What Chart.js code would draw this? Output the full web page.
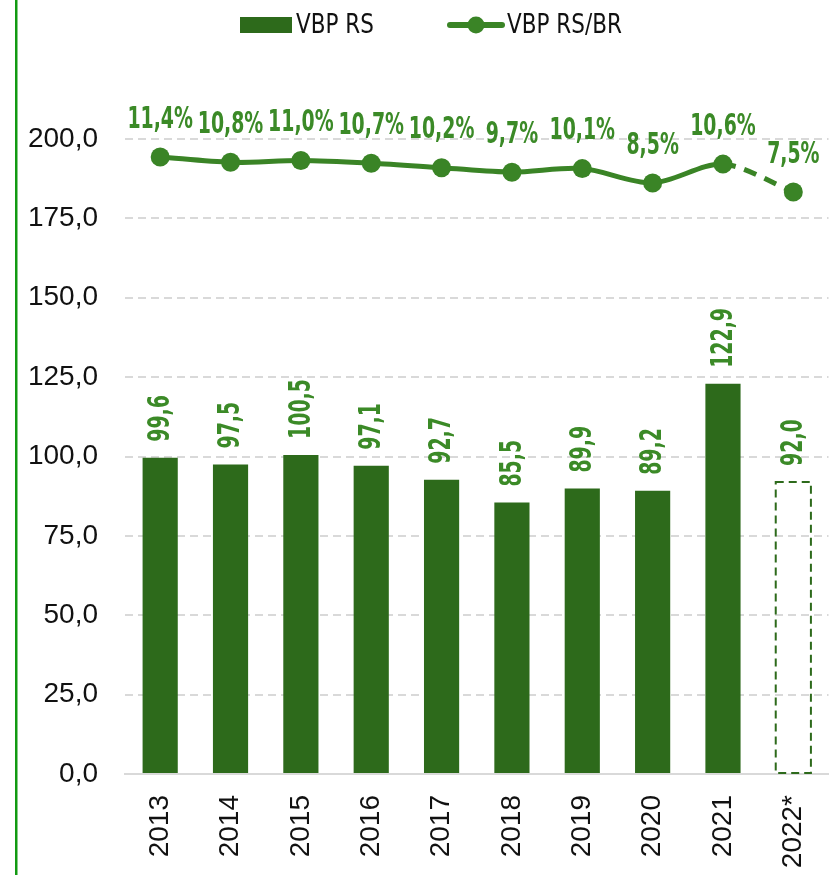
<!DOCTYPE html>
<html>
<head>
<meta charset="utf-8">
<script src="https://cdn.jsdelivr.net/npm/chart.js@4/dist/chart.umd.min.js"></script>
<style>
    html, body { margin: 0; padding: 0; background: #fff; }
    #wrap { width: 838px; height: 875px; }
</style>
</head>
<body>
<div id="wrap"><canvas id="vbp-chart" width="838" height="875"></canvas></div>
<script>
const years = ['2013', '2014', '2015', '2016', '2017', '2018', '2019', '2020', '2021', '2022*'];
const vbpRS = [99.6, 97.5, 100.5, 97.1, 92.7, 85.5, 89.9, 89.2, 122.9, 92.0];
const vbpShare = [11.4, 10.8, 11.0, 10.7, 10.2, 9.7, 10.1, 8.5, 10.6, 7.5];
const projected = [false, false, false, false, false, false, false, false, false, true];
const yTicks = [0, 25, 50, 75, 100, 125, 150, 175, 200];

const BAR_GREEN = '#2d6a1b';
const LINE_GREEN = '#3a8426';
const LABEL_GREEN = '#3b8a27';
const GRID_GREY = '#d9d9d9';
const CONDENSED = "'DejaVu Sans Condensed', 'DejaVu Sans', sans-serif";
const REGULAR = "'Liberation Sans', Arial, sans-serif";
const SQUEEZE = 0.7; // labels in the original are a very narrow bold face

const fmt = v => v.toFixed(1).replace('.', ',');

// left green rule of the page
const pageRule = {
    id: 'pageRule',
    beforeDraw(chart) {
        const ctx = chart.ctx;
        ctx.save();
        ctx.fillStyle = '#129a12';
        ctx.fillRect(15, 0, 2.5, chart.height);
        ctx.restore();
    }
};

// dashed outline for the projected bar
const projectedBar = {
    id: 'projectedBar',
    afterDatasetsDraw(chart) {
        const ctx = chart.ctx;
        const meta = chart.getDatasetMeta(0);
        meta.data.forEach((bar, i) => {
            if (!projected[i]) return;
            const half = bar.width / 2;
            ctx.save();
            ctx.strokeStyle = BAR_GREEN;
            ctx.lineWidth = 2;
            ctx.setLineDash([8, 5]);
            ctx.strokeRect(bar.x - half, bar.y, bar.width, bar.base - bar.y);
            ctx.restore();
        });
    }
};

// value labels (bars rotated, line above points)
const valueLabels = {
    id: 'valueLabels',
    afterDatasetsDraw(chart) {
        const ctx = chart.ctx;
        ctx.save();
        ctx.fillStyle = LABEL_GREEN;
        ctx.font = 'bold 30px ' + CONDENSED;

        chart.getDatasetMeta(0).data.forEach((bar, i) => {
            ctx.save();
            ctx.translate(bar.x, bar.y - 16);
            ctx.rotate(-Math.PI / 2);
            ctx.scale(SQUEEZE, 1);
            ctx.textAlign = 'left';
            ctx.textBaseline = 'middle';
            ctx.fillText(fmt(vbpRS[i]), 0, 1);
            ctx.restore();
        });

        chart.getDatasetMeta(1).data.forEach((pt, i) => {
            ctx.save();
            ctx.translate(pt.x, pt.y - 37);
            ctx.scale(SQUEEZE, 1);
            ctx.textAlign = 'center';
            ctx.textBaseline = 'middle';
            ctx.fillText(fmt(vbpShare[i]) + '%', 0, 0);
            ctx.restore();
        });
        ctx.restore();
    }
};

// legend like the excel one
const topLegend = {
    id: 'topLegend',
    afterDraw(chart) {
        const ctx = chart.ctx;
        const y = 25;
        const x0 = 240;
        ctx.save();
        ctx.font = '26px ' + CONDENSED;
        ctx.textBaseline = 'middle';

        ctx.fillStyle = BAR_GREEN;
        ctx.fillRect(x0, y - 8, 52, 16);
        ctx.fillStyle = '#111';
        ctx.save();
        ctx.translate(x0 + 56, y + 1);
        ctx.scale(0.92, 1);
        ctx.fillText(chart.data.datasets[0].label, 0, 0);
        ctx.restore();

        const lx = 448;
        ctx.strokeStyle = LINE_GREEN;
        ctx.lineWidth = 6;
        ctx.lineCap = 'round';
        ctx.beginPath();
        ctx.moveTo(lx + 2, y);
        ctx.lineTo(lx + 54, y);
        ctx.stroke();
        ctx.fillStyle = LINE_GREEN;
        ctx.beginPath();
        ctx.arc(lx + 28, y, 8.5, 0, Math.PI * 2);
        ctx.fill();
        ctx.fillStyle = '#111';
        ctx.save();
        ctx.translate(lx + 59, y + 1);
        ctx.scale(0.92, 1);
        ctx.fillText(chart.data.datasets[1].label, 0, 0);
        ctx.restore();
        ctx.restore();
    }
};

const CHART = document.getElementById('vbp-chart');
const vbpChart = new Chart(CHART, {
    type: 'bar',
    data: {
        labels: years,
        datasets: [
            {
                type: 'bar',
                label: 'VBP RS',
                data: vbpRS,
                yAxisID: 'y',
                backgroundColor: vbpRS.map((v, i) => projected[i] ? 'rgba(0,0,0,0)' : BAR_GREEN),
                borderWidth: 0,
                barPercentage: 0.5,
                categoryPercentage: 1,
                order: 2
            },
            {
                type: 'line',
                label: 'VBP RS/BR',
                data: vbpShare,
                yAxisID: 'y1',
                borderColor: LINE_GREEN,
                backgroundColor: LINE_GREEN,
                borderWidth: 5,
                tension: 0.3,
                pointRadius: 9.5,
                pointBorderWidth: 0,
                pointBackgroundColor: LINE_GREEN,
                segment: {
                    borderDash: ctx => projected[ctx.p1DataIndex] ? [13, 9] : undefined
                },
                order: 1
            }
        ]
    },
    options: {
        responsive: false,
        animation: false,
        devicePixelRatio: 1,
        layout: { padding: { left: 28, right: 6, top: 139, bottom: 5 } },
        plugins: {
            legend: { display: false },
            tooltip: { enabled: false }
        },
        scales: {
            x: {
                grid: { display: false, drawTicks: false },
                border: { display: true, color: GRID_GREY, width: 2 },
                ticks: {
                    color: '#111',
                    font: { family: REGULAR, size: 28 },
                    minRotation: 90,
                    maxRotation: 90,
                    padding: 21
                },
                afterFit: scale => {
                    scale.height = 96;
                    scale.paddingLeft = 0;
                    scale.paddingRight = 0;
                }
            },
            y: {
                min: 0,
                max: 200,
                afterBuildTicks: axis => { axis.ticks = yTicks.map(v => ({ value: v })); },
                grid: { color: GRID_GREY, lineWidth: 2, drawTicks: false },
                border: { display: false, dash: [8, 5] },
                ticks: {
                    color: '#111',
                    font: { family: REGULAR, size: 28 },
                    padding: 27,
                    callback: v => fmt(v)
                },
                afterFit: scale => {
                    scale.width = 97;
                    scale.paddingTop = 0;
                    scale.paddingBottom = 0;
                }
            },
            y1: {
                display: false,
                min: -57.4,
                max: 13.4
            }
        }
    },
    plugins: [pageRule, projectedBar, valueLabels, topLegend]
});
</script>
</body>
</html>
